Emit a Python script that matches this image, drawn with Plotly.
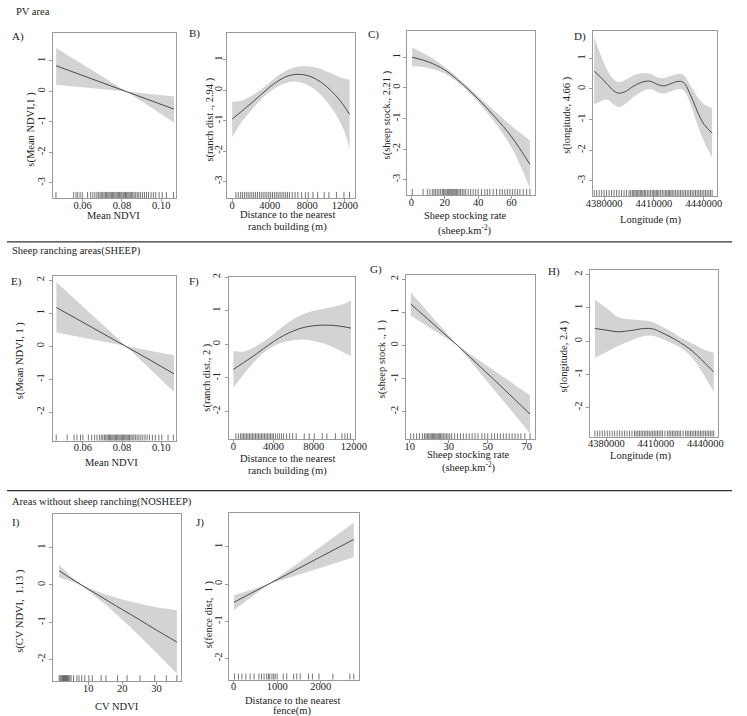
import plotly.graph_objects as go

W, H = 747, 716
FONT = "Liberation Serif"
FILL = "#d3d3d3"
LINE = "#4a4a4a"
RUG = "#3a3a3a"
BOX = "#9a9a9a"
TXT = "#222222"

# ---------------- data ----------------
# A) PV area, Mean NDVI
A_x = [0.0465, 0.0645, 0.0823, 0.0945, 0.1065]
A_fit = [0.84, 0.42, 0.0, -0.29, -0.58]
A_up = [1.42, 0.71, 0.0, -0.085, -0.17]
A_lo = [0.22, 0.11, 0.0, -0.51, -1.02]
A_rug = [0.0464, 0.0554, 0.0566, 0.0575, 0.0587, 0.0598, 0.0625, 0.0641, 0.0652, 0.0662,
         0.0672, 0.068, 0.0688, 0.0695, 0.0702, 0.0709, 0.0716, 0.0722, 0.0728, 0.0734,
         0.074, 0.0746, 0.0752, 0.0758, 0.0764, 0.077, 0.0776, 0.0782, 0.0788, 0.0794,
         0.08, 0.0806, 0.0812, 0.0818, 0.0824, 0.083, 0.0836, 0.0842, 0.0848, 0.0855,
         0.0862, 0.087, 0.0878, 0.0886, 0.0895, 0.0905, 0.0915, 0.0925, 0.0935, 0.0948,
         0.096, 0.0972, 0.0989, 0.1005, 0.1026, 0.1062]

# B) PV area, distance to ranch building
B_x = [0, 1000, 2000, 3000, 4000, 5000, 6000, 7000, 8000, 9000, 10000, 11000, 12000, 12500]
B_fit = [-0.95, -0.7, -0.44, -0.17, 0.1, 0.32, 0.47, 0.52, 0.48, 0.35, 0.13, -0.17, -0.56, -0.8]
B_up = [-0.38, -0.35, -0.2, 0.0, 0.25, 0.5, 0.68, 0.77, 0.78, 0.73, 0.62, 0.49, 0.37, 0.33]
B_lo = [-1.55, -1.05, -0.68, -0.34, -0.05, 0.14, 0.26, 0.27, 0.17, -0.03, -0.35, -0.78, -1.4, -1.95]
B_rug = [400, 650, 900, 1100, 1300, 1500, 1700, 1900, 2100, 2300, 2500, 2700, 2900, 3100,
         3300, 3500, 3700, 3900, 4100, 4300, 4500, 4700, 4900, 5100, 5300, 5500, 5700, 5900,
         6100, 6400, 6700, 7000, 7400, 7800, 8100, 8600, 9100, 9800, 10300, 11100, 11900, 12500]

# C) PV area, sheep stocking rate
C_x = [0.4, 10, 20, 30, 40, 50, 60, 71]
C_fit = [1.0, 0.85, 0.58, 0.15, -0.37, -0.95, -1.6, -2.5]
C_up = [1.32, 1.05, 0.68, 0.22, -0.28, -0.77, -1.25, -1.72]
C_lo = [0.7, 0.65, 0.47, 0.08, -0.47, -1.13, -1.95, -3.28]
C_rug = [0.5, 7, 9.5, 11, 12.5, 13.5, 14.5, 15.5, 16.5, 17.5, 18.5, 19.2, 20, 20.7, 21.4, 22,
         22.6, 23.2, 23.8, 24.4, 25, 25.6, 26.3, 27, 27.8, 28.6, 29.5, 30.5, 31.5, 32.5, 34,
         35.5, 37, 38.5, 40, 42, 44, 45.5, 47, 49, 51, 53, 54.5, 56, 57.5, 59, 60.5, 62, 63.5,
         65, 67, 69, 71]

# D) PV area, longitude
D_x = [4374000, 4378000, 4382000, 4386000, 4389000, 4393000, 4398000, 4404000, 4408000,
       4412000, 4416000, 4420000, 4425000, 4428000, 4432000, 4436000, 4440000, 4445000]
D_fit = [0.58, 0.38, 0.15, -0.07, -0.14, -0.08, 0.1, 0.24, 0.25, 0.15, 0.1, 0.17, 0.25, 0.2,
         -0.2, -0.72, -1.15, -1.45]
D_up = [1.7, 1.1, 0.6, 0.3, 0.22, 0.3, 0.45, 0.52, 0.5, 0.38, 0.35, 0.42, 0.5, 0.45, 0.1,
        -0.25, -0.5, -0.62]
D_lo = [-0.5, -0.4, -0.35, -0.52, -0.6, -0.48, -0.25, -0.05, 0.0, -0.1, -0.15, -0.08, 0.0,
        -0.05, -0.5, -1.15, -1.7, -2.25]
D_rug = [4374000, 4375500, 4377000, 4378500, 4380000, 4381500, 4383000, 4384500, 4386000,
         4387500, 4389000, 4390500, 4392000, 4393500, 4395000, 4396000, 4397000, 4397800,
         4398600, 4399400, 4400200, 4401000, 4401800, 4402600, 4403400, 4404200, 4405000,
         4406000, 4407000, 4408000, 4409000, 4409800, 4410600, 4411400, 4412200, 4413000,
         4414000, 4415000, 4416000, 4417000, 4417800, 4418600, 4419400, 4420200, 4421000,
         4422000, 4423000, 4424000, 4425000, 4426000, 4427000, 4428000, 4429000, 4430000,
         4431000, 4432000, 4433000, 4434000, 4435000, 4436000, 4437000, 4438000, 4439000,
         4440000, 4441000, 4442000, 4443000, 4444000, 4445000]

# E) SHEEP, Mean NDVI
E_x = [0.0465, 0.0643, 0.082, 0.0943, 0.1065]
E_fit = [1.17, 0.58, 0.0, -0.42, -0.84]
E_up = [1.93, 0.96, 0.0, -0.14, -0.28]
E_lo = [0.41, 0.2, 0.0, -0.69, -1.38]
E_rug = [0.0464, 0.052, 0.0555, 0.057, 0.0588, 0.06, 0.0628, 0.0645, 0.066, 0.0672, 0.0684,
         0.0694, 0.0702, 0.071, 0.0717, 0.0724, 0.073, 0.0736, 0.0742, 0.0748, 0.0754, 0.076,
         0.0766, 0.0772, 0.0778, 0.0784, 0.079, 0.0796, 0.0802, 0.0808, 0.0814, 0.082, 0.0826,
         0.0832, 0.0838, 0.0845, 0.0852, 0.086, 0.0868, 0.0877, 0.0886, 0.0896, 0.0906,
         0.0917, 0.0928, 0.094, 0.0955, 0.097, 0.0988, 0.1003, 0.1035, 0.1062]

# F) SHEEP, distance to ranch building
F_x = [0, 1000, 2000, 3000, 4000, 5000, 6000, 7000, 8000, 9000, 10000, 11000, 11700]
F_fit = [-0.75, -0.55, -0.35, -0.13, 0.08, 0.26, 0.4, 0.5, 0.55, 0.57, 0.56, 0.52, 0.48]
F_up = [-0.2, -0.22, -0.1, 0.08, 0.3, 0.55, 0.75, 0.9, 1.0, 1.06, 1.12, 1.2, 1.3]
F_lo = [-1.3, -0.9, -0.55, -0.25, -0.05, 0.07, 0.12, 0.14, 0.1, 0.02, -0.1, -0.25, -0.35]
F_rug = [250, 500, 700, 850, 1000, 1150, 1300, 1450, 1600, 1750, 1900, 2050, 2200, 2350,
         2500, 2650, 2800, 2950, 3100, 3250, 3400, 3550, 3700, 3850, 4000, 4200, 4400, 4600,
         4800, 5000, 5300, 5600, 5900, 6250, 7050, 7550, 8050, 8850, 9300, 10150, 10800,
         11100, 11350, 11650]

# G) SHEEP, sheep stocking rate
G_x = [10.5, 22.5, 34.5, 53, 71.7]
G_fit = [1.25, 0.62, 0.0, -1.02, -2.07]
G_up = [1.6, 0.8, 0.0, -0.75, -1.5]
G_lo = [0.9, 0.45, 0.0, -1.32, -2.65]
G_rug = [10.5, 12, 13.5, 15, 16.5, 17.5, 18.3, 19, 19.7, 20.4, 21, 21.6, 22.2, 22.8, 23.4,
         24, 24.6, 25.2, 25.8, 26.5, 27.2, 28, 28.8, 29.6, 30.5, 31.5, 33, 34.5, 36, 37.5, 39,
         40.5, 42, 43.5, 45, 47, 48.5, 50, 52, 53.5, 55, 56.5, 58, 59.5, 61, 62.5, 64, 65.5,
         67, 69, 71.7]

# H) SHEEP, longitude
H_x = [4373000, 4380000, 4387000, 4395000, 4403000, 4408000, 4413000, 4419000, 4425000,
       4430000, 4435000, 4440000, 4445000]
H_fit = [0.38, 0.33, 0.28, 0.32, 0.38, 0.37, 0.27, 0.12, -0.05, -0.22, -0.43, -0.68, -0.93]
H_up = [1.25, 1.0, 0.73, 0.65, 0.62, 0.57, 0.45, 0.3, 0.1, -0.02, -0.15, -0.28, -0.35]
H_lo = [-0.5, -0.33, -0.15, 0.02, 0.15, 0.16, 0.08, -0.05, -0.2, -0.4, -0.7, -1.1, -1.53]
H_rug = [4373000, 4374500, 4376000, 4377500, 4379000, 4380500, 4382000, 4383500, 4385000,
         4386500, 4388000, 4389500, 4391000, 4392500, 4394000, 4395500, 4397000, 4398000,
         4399000, 4400000, 4401000, 4402000, 4403000, 4404000, 4405000, 4406000, 4407000,
         4408000, 4409000, 4410000, 4411000, 4412000, 4413000, 4414000, 4415500, 4417000,
         4418000, 4419000, 4420000, 4421000, 4422000, 4423000, 4424000, 4425000, 4426500,
         4428000, 4429000, 4430000, 4431000, 4432000, 4433000, 4434000, 4435000, 4436000,
         4437000, 4438000, 4439000, 4440000, 4441000, 4442000, 4443000, 4444000, 4445000]

# I) NOSHEEP, CV NDVI
I_x = [1.5, 5, 8, 12, 16, 20, 25, 30, 36]
I_fit = [0.38, 0.17, 0.0, -0.22, -0.44, -0.66, -0.93, -1.21, -1.53]
I_up = [0.55, 0.22, 0.02, -0.15, -0.28, -0.39, -0.5, -0.6, -0.68]
I_lo = [0.19, 0.1, -0.02, -0.3, -0.6, -0.93, -1.36, -1.82, -2.38]
I_rug = [1.5, 1.8, 2.1, 2.4, 2.6, 2.8, 3.0, 3.2, 3.4, 3.6, 3.8, 4.0, 4.3, 4.6, 5.0, 5.7, 6.7,
         7.3, 8.1, 9.0, 10.2, 11.2, 13.8, 15.2, 18.6, 21.4, 25.2, 29.5, 32.9, 36.0]

# J) NOSHEEP, distance to fence
J_x = [10, 410, 810, 1785, 2760]
J_fit = [-0.49, -0.245, 0.0, 0.6, 1.2]
J_up = [-0.3, -0.15, 0.0, 0.825, 1.65]
J_lo = [-0.7, -0.35, 0.0, 0.36, 0.72]
J_rug = [20, 110, 190, 280, 380, 470, 580, 640, 700, 760, 800, 830, 880, 920, 955, 1000,
         1140, 1220, 1380, 1450, 1530, 1720, 1810, 1960, 2280, 2670, 2760]

# tick values / labels
NDVI_ticks = [0.06, 0.08, 0.10]
NDVI_labels = ["0.06", "0.08", "0.10"]
RANCH_ticks = [0, 4000, 8000, 12000]
RANCH_labels = ["0", "4000", "8000", "12000"]
STOCK1_ticks = [0, 20, 40, 60]
STOCK1_labels = ["0", "20", "40", "60"]
STOCK2_ticks = [10, 30, 50, 70]
STOCK2_labels = ["10", "30", "50", "70"]
LON_ticks = [4380000, 4410000, 4440000]
LON_labels = ["4380000", "4410000", "4440000"]
CV_ticks = [10, 20, 30]
CV_labels = ["10", "20", "30"]
FENCE_ticks = [0, 1000, 2000]
FENCE_labels = ["0", "1000", "2000"]
Y1_ticks = [1, 0, -1, -2, -3]
Y1_labels = ["1", "0", "-1", "-2", "-3"]
Y2_ticks = [2, 1, 0, -1, -2]
Y2_labels = ["2", "1", "0", "-1", "-2"]
Y3_ticks = [1, 0, -1, -2]
Y3_labels = ["1", "0", "-1", "-2"]

SUP = "(sheep.km<sup>-2</sup>)"

# ---------------- panel layout ----------------
panels = [
    dict(x=A_x, fit=A_fit, up=A_up, lo=A_lo, rug=A_rug, shape="linear",
         box=(47, 173, 29, 195), xr=(0.0448, 0.1073), yr=(-3.49, 1.92), ysd=0,
         xt=(NDVI_ticks, NDVI_labels), yt=(Y1_ticks, Y1_labels),
         letter=("A)", 3, 33), ylab=("s(Mean NDVI,1 )", 25, 126),
         xlab=[("Mean NDVI", 109, 213)]),
    dict(x=B_x, fit=B_fit, up=B_up, lo=B_lo, rug=B_rug, shape="spline",
         box=(225.7, 356.7, 29.3, 195), xr=(-550, 13037), yr=(-3.54, 1.87), ysd=-3,
         xt=(RANCH_ticks, RANCH_labels), yt=(Y1_ticks, Y1_labels),
         letter=("B)", 185, 30), ylab=("s(ranch dist ., 2.94 )", 208.5, 116),
         xlab=[("Distance to the nearest", 288, 212), ("ranch building (m)", 288, 224)]),
    dict(x=C_x, fit=C_fit, up=C_up, lo=C_lo, rug=C_rug, shape="spline",
         box=(410.7, 541.7, 27, 192), xr=(-2.5, 74), yr=(-3.5, 1.86), ysd=-1,
         xt=(STOCK1_ticks, STOCK1_labels), yt=(Y1_ticks, Y1_labels),
         letter=("C)", 368, 31), ylab=("s(sheep stock., 2.21 )", 390, 112),
         xlab=[("Sheep stocking rate", 470, 213), (SUP, 470, 227)]),
    dict(x=D_x, fit=D_fit, up=D_up, lo=D_lo, rug=D_rug, shape="spline",
         box=(601.7, 728.3, 27, 193), xr=(4373550, 4447800), yr=(-3.5, 1.9), ysd=0,
         xt=(LON_ticks, LON_labels), yt=(Y1_ticks, Y1_labels),
         letter=("D)", 580, 33), ylab=("s(longitude, 4.66 )", 575, 112),
         xlab=[("Longitude (m)", 660, 217)]),
    dict(x=E_x, fit=E_fit, up=E_up, lo=E_lo, rug=E_rug, shape="linear",
         box=(46.7, 173.3, 273.3, 439), xr=(0.0445, 0.1075), yr=(-2.86, 2.13), ysd=0,
         xt=(NDVI_ticks, NDVI_labels), yt=(Y2_ticks, Y2_labels),
         letter=("E)", 2, 279), ylab=("s(Mean NDVI, 1 )", 13.5, 359),
         xlab=[("Mean NDVI", 107.5, 461)]),
    dict(x=F_x, fit=F_fit, up=F_up, lo=F_lo, rug=F_rug, shape="spline",
         box=(227.3, 356.7, 274.3, 437.7), xr=(-485, 12066), yr=(-2.83, 2.01), ysd=0,
         xt=(RANCH_ticks, RANCH_labels), yt=(Y2_ticks, Y2_labels),
         letter=("F)", 185, 279), ylab=("s(ranch dist., 2 )", 205, 376),
         xlab=[("Distance to the nearest", 288, 457), ("ranch building (m)", 288, 470)]),
    dict(x=G_x, fit=G_fit, up=G_up, lo=G_lo, rug=G_rug, shape="linear",
         box=(409.3, 541.7, 272.7, 437.7), xr=(8, 74.2), yr=(-2.83, 2.12), ysd=0,
         xt=(STOCK2_ticks, STOCK2_labels), yt=(Y2_ticks, Y2_labels),
         letter=("G)", 370, 267), ylab=("s(sheep stock ., 1 )", 385, 357),
         xlab=[("Sheep stocking rate", 474, 453), (SUP, 474, 466)]),
    dict(x=H_x, fit=H_fit, up=H_up, lo=H_lo, rug=H_rug, shape="spline",
         box=(598.3, 730, 267.3, 435), xr=(4370100, 4447900), yr=(-2.88, 2.15), ysd=0,
         xt=(LON_ticks, LON_labels), yt=(Y2_ticks, Y2_labels),
         letter=("H)", 553, 269), ylab=("s(longitude, 2.4 )", 572, 354),
         xlab=[("Longitude (m)", 650, 455)]),
    dict(x=I_x, fit=I_fit, up=I_up, lo=I_lo, rug=I_rug, shape="spline",
         box=(47.7, 179, 513.3, 681), xr=(-0.17, 37.34), yr=(-2.58, 1.89), ysd=0,
         xt=(CV_ticks, CV_labels), yt=(Y3_ticks, Y3_labels),
         letter=("I)", 3, 521), ylab=("s(CV NDVI,  1.13 )", 12.5, 610),
         xlab=[("CV NDVI", 112.5, 706)]),
    dict(x=J_x, fit=J_fit, up=J_up, lo=J_lo, rug=J_rug, shape="linear",
         box=(228.3, 360.7, 512.3, 679.3), xr=(-95, 2870), yr=(-2.57, 1.9), ysd=-1,
         xt=(FENCE_ticks, FENCE_labels), yt=(Y3_ticks, Y3_labels),
         letter=("J)", 192, 521), ylab=("s(fence dist,  1 )", 207, 614),
         xlab=[("Distance to the nearest", 292.5, 700.5), ("fence(m)", 292.5, 711)]),
]

headers = [("PV area", 7, 8), ("Sheep ranching areas(SHEEP)", 3, 248),
           ("Areas without sheep ranching(NOSHEEP)", 3, 501)]
separators = [239.3, 489.3]


def fx(p):
    return p / W


def fy(p):
    return 1 - p / H


fig = go.Figure()
axes = {}
annotations = []

for i, p in enumerate(panels, start=1):
    sx = "" if i == 1 else str(i)
    xa, ya = "x" + sx, "y" + sx
    l, r, t, b = p["box"]
    y0, y1 = p["yr"]
    common = dict(xaxis=xa, yaxis=ya, showlegend=False, hoverinfo="skip")
    fig.add_trace(go.Scatter(x=p["x"], y=p["lo"], mode="lines",
                             line=dict(width=0, shape=p["shape"], color=FILL), **common))
    fig.add_trace(go.Scatter(x=p["x"], y=p["up"], mode="lines", fill="tonexty",
                             fillcolor=FILL,
                             line=dict(width=0, shape=p["shape"], color=FILL), **common))
    fig.add_trace(go.Scatter(x=p["x"], y=p["fit"], mode="lines",
                             line=dict(width=1, shape=p["shape"], color=LINE), **common))
    fig.add_trace(go.Scatter(x=p["rug"], y=[y0 + 0.015 * (y1 - y0)] * len(p["rug"]),
                             mode="markers",
                             marker=dict(symbol="line-ns", size=5,
                                         line=dict(width=0.7, color=RUG)), **common))
    axstyle = dict(showline=True, mirror=True, linecolor=BOX, linewidth=1,
                   ticks="outside", ticklen=3, tickcolor=BOX, showgrid=False,
                   zeroline=False, tickfont=dict(family=FONT, size=10.5, color=TXT))
    axes["xaxis" + sx] = dict(domain=[fx(l), fx(r)], range=list(p["xr"]), anchor=ya,
                              tickmode="array", tickvals=p["xt"][0], ticktext=p["xt"][1],
                              ticklabelstandoff=-6, **axstyle)
    axes["yaxis" + sx] = dict(domain=[fy(b), fy(t)], range=[y0, y1], anchor=xa,
                              tickmode="array", tickvals=p["yt"][0], ticktext=p["yt"][1],
                              tickangle=-90, ticklabelstandoff=p["ysd"], **axstyle)
    txt, lx, ly = p["letter"]
    annotations.append(dict(text=txt, x=fx(lx), y=fy(ly), xref="paper", yref="paper",
                            xanchor="left", yanchor="middle", showarrow=False,
                            font=dict(family=FONT, size=11, color=TXT)))
    txt, lx, ly = p["ylab"]
    annotations.append(dict(text=txt, x=fx(lx), y=fy(ly), xref="paper", yref="paper",
                            xanchor="center", yanchor="middle", showarrow=False,
                            textangle=-90, font=dict(family=FONT, size=10.5, color=TXT)))
    for txt, lx, ly in p["xlab"]:
        annotations.append(dict(text=txt, x=fx(lx), y=fy(ly), xref="paper", yref="paper",
                                xanchor="center", yanchor="middle", showarrow=False,
                                font=dict(family=FONT, size=10.5, color=TXT)))

for txt, lx, ly in headers:
    annotations.append(dict(text=txt, x=fx(lx), y=fy(ly), xref="paper", yref="paper",
                            xanchor="left", yanchor="middle", showarrow=False,
                            font=dict(family=FONT, size=10.5, color=TXT)))

shapes = [dict(type="line", xref="paper", yref="paper", x0=0, x1=fx(744),
               y0=fy(s), y1=fy(s), line=dict(color="#333333", width=1.3))
          for s in separators]

fig.update_layout(width=W, height=H, margin=dict(l=0, r=0, t=0, b=0),
                  paper_bgcolor="white", plot_bgcolor="white",
                  annotations=annotations, shapes=shapes, **axes)

# the page body has a default 8px margin; remove it so the figure fills the window
fig.write_html("out.html", config={"displayModeBar": False},
               post_script="document.body.style.margin='0px';")
